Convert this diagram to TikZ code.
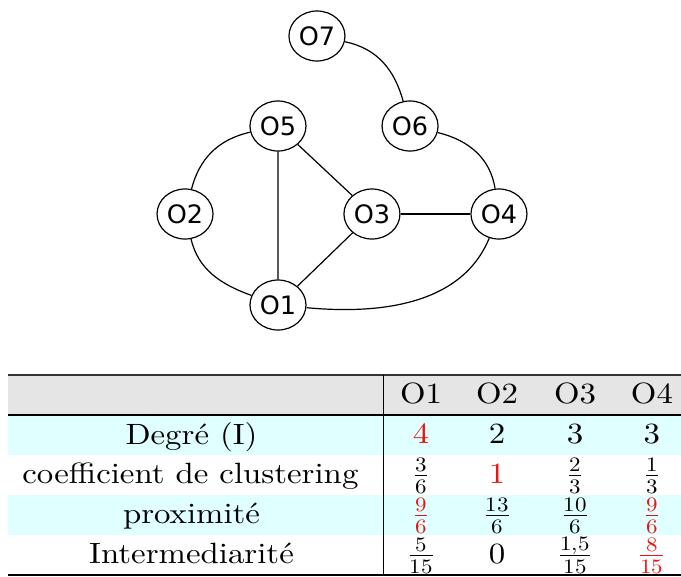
\documentclass[tikz,border=0pt]{standalone}
\usepackage{unicode-math}
\setmainfont{lmroman10-regular.otf}
\setmathfont{Latin Modern Math}
\newfontfamily\vertexfont{DejaVu Sans Condensed}
\definecolor{rowcyan}{RGB}{224,255,255}
\definecolor{headgray}{gray}{0.9}
\definecolor{hired}{RGB}{235,20,20}
\tikzset{
  vertex/.style={circle, draw, line width=0.9pt, minimum size=37.5pt, inner sep=0pt,
    font=\vertexfont\fontsize{19}{22}\selectfont},
  link/.style={line width=0.9pt},
  cell/.style={anchor=base, inner sep=0pt, font=\fontsize{22}{26}\selectfont},
  hi/.style={text=hired},
  rulethin/.style={line width=0.8pt},
  rulethick/.style={line width=1.1pt}
}
\begin{document}
\begin{tikzpicture}[x=0.75pt, y=-0.75pt, xscale=1.12, transform shape]
\useasboundingbox (0,0) rectangle (608.04,576);

% ---- graph ----
\node[vertex] (O7) at (283.0,36)  {O7};
\node[vertex] (O5) at (248.2,126) {O5};
\node[vertex] (O6) at (366.1,126) {O6};
\node[vertex] (O2) at (165.2,214) {O2};
\node[vertex] (O3) at (332.1,214) {O3};
\node[vertex] (O4) at (445.5,214) {O4};
\node[vertex] (O1) at (248.2,305) {O1};

\draw[link] (O7) to[out=-13, in=104] (O6);
\draw[link] (O5) to[out=194, in=77] (O2);
\draw[link] (O2) to[out=-78, in=158] (O1);
\draw[link] (O6) to[out=-15, in=98] (O4);
\draw[link] (O1) to[out=-6, in=250] (O4);
\draw[link] (O5) -- (O1);
\draw[link] (O5) -- (O3);
\draw[link] (O3) -- (O1);
\draw[link] (O3) -- (O4);

% ---- table ----
\fill[headgray] (7.14,375) rectangle (608.04,415);
\fill[rowcyan] (7.14,415) rectangle (608.04,455);
\fill[rowcyan] (7.14,495) rectangle (608.04,535);
\draw[rulethin, black!80] (7.14,375) -- (608.04,375);
\draw[rulethick] (7.14,415) -- (608.04,415);
\draw[rulethick] (7.14,575) -- (608.04,575);
\draw[rulethin] (342.0,375) -- (342.0,575);

% header
\node[cell] (h1) at (375.9,403) {O1};
\node[cell] (h2) at (443.75,403) {O2};
\node[cell] (h3) at (513.4,403) {O3};
\node[cell] (h4) at (582.1,403) {O4};

% Degré
\node[cell] (r1) at (171,444) {Degré (I)};
\node[cell, hi] (r1a) at (375.9,443) {4};
\node[cell] (r1b) at (443.75,443) {2};
\node[cell] (r1c) at (513.4,443) {3};
\node[cell] (r1d) at (582.1,443) {3};

% clustering
\node[cell] (r2) at (170,483) {coefficient de clustering};
\node[cell] (r2a) at (375.9,483) {$\frac{3}{6}$};
\node[cell, hi] (r2b) at (443.75,483) {1};
\node[cell] (r2c) at (513.4,483) {$\frac{2}{3}$};
\node[cell] (r2d) at (582.1,483) {$\frac{1}{3}$};

% proximité
\node[cell] (r3) at (171,523) {proximité};
\node[cell, hi] (r3a) at (375.9,523) {$\frac{9}{6}$};
\node[cell] (r3b) at (443.75,523) {$\frac{13}{6}$};
\node[cell] (r3c) at (513.4,523) {$\frac{10}{6}$};
\node[cell, hi] (r3d) at (582.1,523) {$\frac{9}{6}$};

% intermédiarité
\node[cell] (r4) at (171,563) {Intermediarité};
\node[cell] (r4a) at (375.9,563) {$\frac{5}{15}$};
\node[cell] (r4b) at (443.75,563) {0};
\node[cell] (r4c) at (513.4,563) {$\frac{1{,}5}{15}$};
\node[cell, hi] (r4d) at (582.1,563) {$\frac{8}{15}$};
\end{tikzpicture}
\end{document}
